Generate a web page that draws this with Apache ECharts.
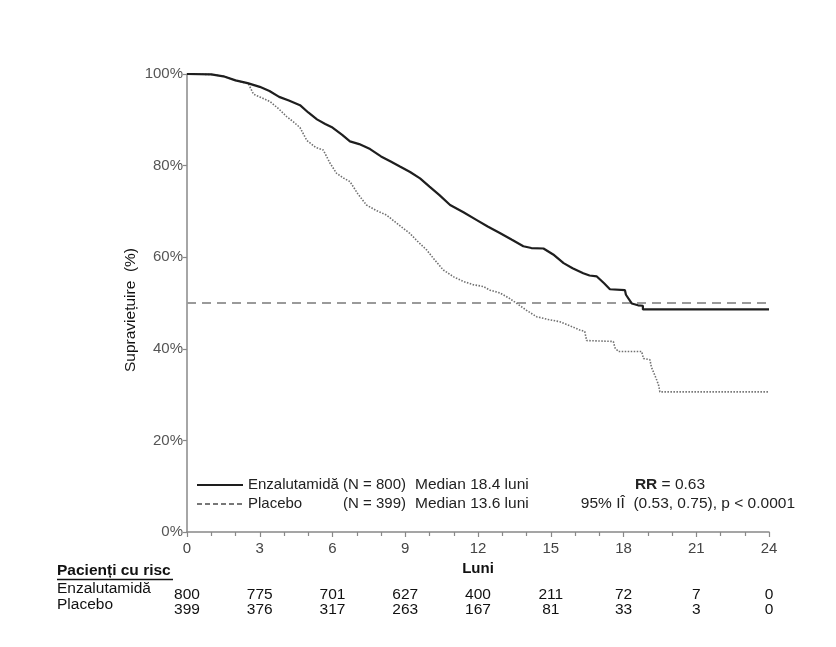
<!DOCTYPE html>
<html>
<head>
<meta charset="utf-8">
<script src="https://cdn.jsdelivr.net/npm/echarts@6/dist/echarts.min.js"></script>
<style>html,body{margin:0;padding:0;background:#fff;}#c{width:836px;height:647px;}</style>
</head>
<body>
<div id="c"></div>
<script>
// Kaplan-Meier curves (month, survival %); repeated months are vertical drops
var enzaMonths = [0, 1.0, 1.5, 2.0, 2.5, 3.0, 3.4, 3.8, 4.2, 4.66, 5.0, 5.36, 5.7, 6.0, 6.4, 6.72, 7.1, 7.55, 8.0, 8.4, 8.78, 9.2, 9.61, 10.0, 10.4, 10.85, 11.4, 11.95, 12.4, 12.9, 13.4, 13.87, 14.2, 14.7, 15.1, 15.53, 15.9, 16.34, 16.6, 16.9, 17.2, 17.44, 18.06, 18.1, 18.34, 18.6, 18.8, 18.8, 24];
var enzaSurv   = [100, 99.9, 99.5, 98.6, 98.0, 97.2, 96.3, 95.0, 94.2, 93.2, 91.6, 90.1, 89.1, 88.3, 86.7, 85.3, 84.7, 83.6, 82.0, 80.9, 79.8, 78.6, 77.2, 75.4, 73.6, 71.4, 69.8, 68.1, 66.7, 65.3, 63.8, 62.4, 62.0, 61.9, 60.6, 58.7, 57.6, 56.5, 56.0, 55.8, 54.3, 53.0, 52.8, 51.8, 49.9, 49.5, 49.4, 48.6, 48.6];
var placeboMonths = [0, 1.0, 1.5, 2.0, 2.53, 2.74, 3.0, 3.42, 3.8, 4.11, 4.4, 4.66, 4.94, 5.3, 5.62, 5.9, 6.17, 6.45, 6.72, 7.05, 7.4, 7.8, 8.23, 8.7, 9.19, 9.5, 9.88, 10.2, 10.57, 11.0, 11.4, 11.8, 12.22, 12.5, 12.9, 13.3, 13.6, 14.0, 14.42, 14.9, 15.38, 15.8, 16.2, 16.4, 16.48, 17.58, 17.65, 17.79, 18.75, 18.82, 19.09, 19.15, 19.23, 19.37, 19.45, 19.5, 24];
var placeboSurv   = [100, 99.9, 99.5, 98.6, 97.9, 95.6, 95.0, 94.0, 92.3, 90.7, 89.5, 88.3, 85.5, 84.0, 83.4, 80.5, 78.3, 77.3, 76.5, 73.8, 71.4, 70.2, 69.2, 67.2, 65.2, 63.5, 61.6, 59.5, 57.2, 55.7, 54.7, 54.0, 53.6, 52.8, 52.2, 51.0, 49.9, 48.4, 47.0, 46.4, 45.9, 45.0, 44.1, 43.8, 41.8, 41.6, 40.2, 39.4, 39.4, 37.9, 37.6, 36.0, 35.0, 33.2, 32.0, 30.6, 30.6];
var medianLineMonths = [0, 24];
var medianLine = [50, 50];

// Patients at risk
var atRiskMonths   = [0, 3, 6, 9, 12, 15, 18, 21, 24];
var enzaAtRisk     = [800, 775, 701, 627, 400, 211, 72, 7, 0];
var placeboAtRisk  = [399, 376, 317, 263, 167, 81, 33, 3, 0];

var FONT = '"Liberation Sans", Arial, sans-serif';

function pairs(xs, ys) { return xs.map(function (x, i) { return [x, ys[i]]; }); }

var chart = echarts.init(document.getElementById('c'), null, { renderer: 'canvas' });
chart.setOption({
  animation: false,
  backgroundColor: '#fff',
  textStyle: { fontFamily: FONT },
  grid: { left: 187, right: 67, top: 74, bottom: 115 },
  xAxis: {
    type: 'value', min: 0, max: 24, interval: 3,
    axisLine: { show: true, onZero: false, lineStyle: { color: '#888', width: 1.5 } },
    axisTick: { show: true, length: 5, lineStyle: { color: '#888', width: 1.2 } },
    minorTick: { show: true, splitNumber: 3, length: 4, lineStyle: { color: '#888', width: 1.2 } },
    axisLabel: { color: '#444', fontSize: 15, margin: 9, fontFamily: FONT },
    splitLine: { show: false }
  },
  yAxis: {
    type: 'value', min: 0, max: 100, interval: 20,
    axisLine: { show: true, lineStyle: { color: '#888', width: 1.5 } },
    axisTick: { show: true, length: 4, lineStyle: { color: '#888', width: 1.2 } },
    axisLabel: { color: '#555', fontSize: 15, margin: 4, formatter: '{value}%', fontFamily: FONT },
    splitLine: { show: false }
  },
  series: [
    {
      name: 'Median', type: 'line', data: pairs(medianLineMonths, medianLine),
      symbol: 'none', silent: true,
      lineStyle: { color: '#9a9a9a', width: 2, type: [9, 6] }, z: 1
    },
    {
      name: 'Placebo', type: 'line', data: pairs(placeboMonths, placeboSurv),
      symbol: 'none', lineStyle: { color: '#707070', width: 1.6, type: [1.5, 1.5] }, z: 2
    },
    {
      name: 'Enzalutamidă', type: 'line', data: pairs(enzaMonths, enzaSurv),
      symbol: 'none', lineStyle: { color: '#1e1e1e', width: 2.2 }, z: 3
    }
  ]
});

var els = [];
function xp(m) { return chart.convertToPixel({ xAxisIndex: 0 }, m); }
var tf = '15.5px ' + FONT;
atRiskMonths.forEach(function (m, i) {
  els.push({ type: 'text', x: xp(m), y: 595, style: { text: String(enzaAtRisk[i]), fill: '#111', font: tf, align: 'center', verticalAlign: 'middle' } });
  els.push({ type: 'text', x: xp(m), y: 610, style: { text: String(placeboAtRisk[i]), fill: '#111', font: tf, align: 'center', verticalAlign: 'middle' } });
});
els.push({ type: 'text', x: xp(12), y: 569, style: { text: 'Luni', fill: '#111', font: 'bold 15px ' + FONT, align: 'center', verticalAlign: 'middle' } });
els.push({ type: 'text', x: 131, y: 310, rotation: Math.PI / 2, style: { text: 'Supraviețuire  (%)', fill: '#111', font: '15.5px ' + FONT, align: 'center', verticalAlign: 'middle' } });
els.push({ type: 'text', x: 57, y: 571, style: { text: 'Pacienți cu risc', fill: '#111', font: 'bold 15.5px ' + FONT, align: 'left', verticalAlign: 'middle' } });
els.push({ type: 'line', shape: { x1: 57, y1: 579.5, x2: 173, y2: 579.5 }, style: { stroke: '#111', lineWidth: 1.4 } });
els.push({ type: 'text', x: 57, y: 589, style: { text: 'Enzalutamidă', fill: '#111', font: tf, align: 'left', verticalAlign: 'middle' } });
els.push({ type: 'text', x: 57, y: 605, style: { text: 'Placebo', fill: '#111', font: tf, align: 'left', verticalAlign: 'middle' } });
// legend
els.push({ type: 'line', shape: { x1: 197, y1: 485, x2: 243, y2: 485 }, style: { stroke: '#1e1e1e', lineWidth: 2 } });
els.push({ type: 'line', shape: { x1: 197, y1: 504, x2: 243, y2: 504 }, style: { stroke: '#777', lineWidth: 2, lineDash: [5, 3] } });
var nf = '15px ' + FONT;
var lf = '15.5px ' + FONT;
els.push({ type: 'text', x: 248, y: 485, style: { text: 'Enzalutamidă (N = 800)', fill: '#222', font: nf, verticalAlign: 'middle' } });
els.push({ type: 'text', x: 248, y: 504, style: { text: 'Placebo', fill: '#222', font: nf, verticalAlign: 'middle' } });
els.push({ type: 'text', x: 406, y: 504, style: { text: '(N = 399)', fill: '#222', font: nf, align: 'right', verticalAlign: 'middle' } });
els.push({ type: 'text', x: 415, y: 485, style: { text: 'Median 18.4 luni', fill: '#222', font: lf, verticalAlign: 'middle' } });
els.push({ type: 'text', x: 415, y: 504, style: { text: 'Median 13.6 luni', fill: '#222', font: lf, verticalAlign: 'middle' } });
els.push({ type: 'text', x: 670, y: 485, style: { text: '{b|RR} = 0.63', fill: '#222', font: '15.5px ' + FONT, align: 'center', verticalAlign: 'middle', rich: { b: { fontWeight: 'bold', fontSize: 15.5, fontFamily: FONT, fill: '#222' } } } });
els.push({ type: 'text', x: 795, y: 504, style: { text: '95% IÎ  (0.53, 0.75), p < 0.0001', fill: '#222', font: '15.5px ' + FONT, align: 'right', verticalAlign: 'middle' } });

chart.setOption({ graphic: els });
</script>
</body>
</html>
